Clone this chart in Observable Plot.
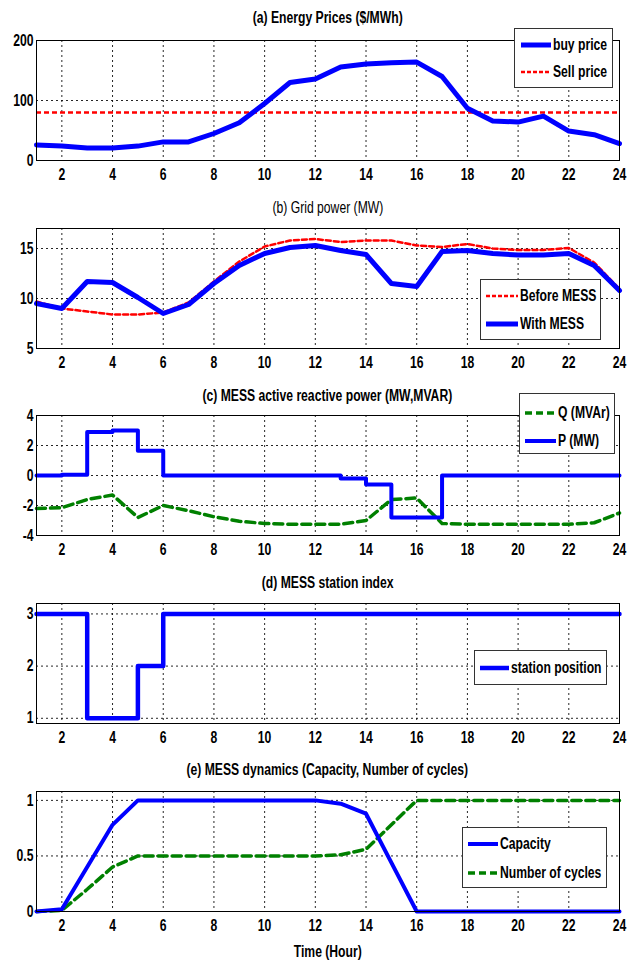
<!DOCTYPE html>
<html><head><meta charset="utf-8">
<script src="https://cdn.jsdelivr.net/npm/d3@7"></script>
<script src="https://cdn.jsdelivr.net/npm/@observablehq/plot@0.6"></script>
<style>
body{margin:0;background:#fff;}
#root{position:relative;width:628px;height:961px;overflow:hidden;font-family:'Liberation Sans',Arial,sans-serif;color:#000;}
.title{position:absolute;left:36px;width:583px;text-align:center;font-size:16px;font-weight:bold;line-height:18px;}
.title span{display:inline-block;transform:scaleX(0.76);transform-origin:50% 50%;white-space:nowrap;}
.panel{position:absolute;left:0;}
.legend{position:absolute;border:1px solid #333;background:#fff;}
.item{position:absolute;font-size:16px;font-weight:bold;white-space:nowrap;line-height:18px;}
.item span{display:inline-block;transform:scaleX(0.76);transform-origin:0 50%;}
.item svg{position:absolute;top:0;left:0;}
</style></head>
<body><div id="root"></div>
<script>
const hours = [1,2,3,4,5,6,7,8,9,10,11,12,13,14,15,16,17,18,19,20,21,22,23,24];
const xTicks = [2,4,6,8,10,12,14,16,18,20,22,24];

const buyPrice = [26,24,21,21,24,31,31,45,63,95,130,136,156,161,163,164,140,87,66,64,74,49,43,28];
const sellPrice = 80;
const priceTicks = [0,100,200];

const beforeMESS = [9.7,9.0,8.7,8.4,8.4,8.6,9.6,11.7,13.7,15.2,15.8,15.95,15.65,15.8,15.8,15.3,15.15,15.45,15.0,14.85,14.85,15.05,13.6,10.95];
const withMESS = [9.5,9.0,11.7,11.6,10.1,8.5,9.4,11.5,13.3,14.5,15.1,15.3,14.8,14.4,11.5,11.2,14.7,14.8,14.5,14.35,14.35,14.5,13.3,10.8];
const gridTicks = [5,10,15];

const pMW = [0,0.05,2.9,3.0,1.65,0,0,0,0,0,0,0,-0.2,-0.6,-2.8,-2.8,0,0,0,0,0,0,0,0];
const qMVAr = [-2.2,-2.15,-1.6,-1.3,-2.8,-2.0,-2.35,-2.75,-3.05,-3.2,-3.25,-3.25,-3.25,-3.0,-1.6,-1.5,-3.2,-3.25,-3.25,-3.25,-3.25,-3.25,-3.15,-2.5];
const powerTicks = [-4,-2,0,2,4];

const station = [3,3,1,1,2,3,3,3,3,3,3,3,3,3,3,3,3,3,3,3,3,3,3,3];
const stationTicks = [1,2,3];

const capacity = [0,0.02,0.4,0.78,1,1,1,1,1,1,1,1,0.97,0.88,0.44,0,0,0,0,0,0,0,0,0];
const cycles = [0,0.01,0.2,0.4,0.5,0.5,0.5,0.5,0.5,0.5,0.5,0.5,0.51,0.56,0.78,1,1,1,1,1,1,1,1,1];
const dynTicks = [0,0.5,1];

const BLUE = "#0000ff", RED = "#ff0000", GREEN = "#008000";
const FONT = "'Liberation Sans',Arial,sans-serif";
const SQ = 0.76;
const root = document.getElementById("root");

const rows = a => hours.map((h, i) => ({h, v: a[i]}));

function squeezeSvgText(svg) {
  svg.querySelectorAll("text").forEach(t => {
    const x = parseFloat(t.getAttribute("x")) || 0;
    const tr = t.getAttribute("transform") || "";
    t.setAttribute("transform", `${tr} translate(${x},0) scale(${SQ},1) translate(${-x},0)`.trim());
  });
}

function panel(frameTop, yDomain, yTicks, marks) {
  const mt = 2, mb = 30, fh = 120;
  const p = Plot.plot({
    width: 628, height: fh + mt + mb,
    marginTop: mt, marginBottom: mb, marginLeft: 36, marginRight: 9,
    x: {domain: [1, 24], ticks: xTicks, tickSize: 0, tickPadding: 8, label: null, tickFormat: d => String(d)},
    y: {domain: yDomain, ticks: yTicks, tickSize: 0, tickPadding: 3, label: null, tickFormat: d => String(d)},
    style: {fontFamily: FONT, fontSize: "16px", fontWeight: "bold", color: "#000", background: "transparent", overflow: "visible"},
    marks: [
      Plot.ruleX(xTicks, {stroke: "#000", strokeWidth: 1, strokeDasharray: "2,3", strokeOpacity: 0.85}),
      Plot.ruleY(yTicks, {stroke: "#000", strokeWidth: 1, strokeDasharray: "2,3", strokeOpacity: 0.85}),
      ...marks,
      Plot.frame({stroke: "#000", strokeWidth: 1})
    ]
  });
  squeezeSvgText(p);
  const d = document.createElement("div");
  d.className = "panel";
  d.style.top = (frameTop - mt) + "px";
  d.appendChild(p);
  root.appendChild(d);
}

function title(text, cy, bold = true) {
  const t = document.createElement("div");
  t.className = "title";
  const s = document.createElement("span");
  s.textContent = text;
  t.appendChild(s);
  t.style.top = (cy - 9) + "px";
  if (!bold) t.style.fontWeight = "normal";
  root.appendChild(t);
}

function legend(box, items) {
  const L = document.createElement("div");
  L.className = "legend";
  Object.assign(L.style, {left: box.x + "px", top: box.y + "px", width: box.w + "px", height: box.h + "px"});
  items.forEach(it => {
    const r = document.createElement("div");
    r.className = "item";
    r.style.left = box.sx + "px";
    r.style.top = (it.cy - 9) + "px";
    r.style.paddingLeft = (box.sw + 2) + "px";
    r.innerHTML = `<svg width="${box.sw}" height="18"><line x1="0" x2="${box.sw}" y1="9" y2="9" stroke="${it.color}" stroke-width="${it.width}" ${it.dash ? `stroke-dasharray="${it.dash}"` : ""}/></svg><span>${it.label}</span>`;
    L.appendChild(r);
  });
  root.appendChild(L);
}

// (a)
title("(a) Energy Prices ($/MWh)", 18);
panel(40, [0, 200], priceTicks, [
  Plot.ruleY([sellPrice], {stroke: RED, strokeWidth: 2.5, strokeDasharray: "5,3"}),
  Plot.line(rows(buyPrice), {x: "h", y: "v", stroke: BLUE, strokeWidth: 5})
]);
legend({x: 514, y: 28, w: 97, h: 58, sx: 6, sw: 30}, [
  {label: "buy price", color: BLUE, width: 5, cy: 16},
  {label: "Sell price", color: RED, width: 2.5, dash: "4,2", cy: 43}
]);

// (b)
title("(b) Grid power (MW)", 208, false);
panel(228, [5, 17], gridTicks, [
  Plot.line(rows(beforeMESS), {x: "h", y: "v", stroke: RED, strokeWidth: 2.5, strokeDasharray: "5,3"}),
  Plot.line(rows(withMESS), {x: "h", y: "v", stroke: BLUE, strokeWidth: 5})
]);
legend({x: 480, y: 279, w: 119, h: 59, sx: 5, sw: 32}, [
  {label: "Before MESS", color: RED, width: 2.5, dash: "4,2", cy: 16},
  {label: "With MESS", color: BLUE, width: 5, cy: 44}
]);

// (c)
title("(c) MESS active reactive power (MW,MVAR)", 396);
panel(415, [-4, 4], powerTicks, [
  Plot.line(rows(qMVAr), {x: "h", y: "v", stroke: GREEN, strokeWidth: 3.5, strokeDasharray: "9,5"}),
  Plot.line(rows(pMW), {x: "h", y: "v", stroke: BLUE, strokeWidth: 4, curve: "step-after"})
]);
legend({x: 519, y: 393, w: 94, h: 59, sx: 5, sw: 31}, [
  {label: "Q (MVAr)", color: GREEN, width: 3.5, dash: "7,4", cy: 19},
  {label: "P (MW)", color: BLUE, width: 4, cy: 47}
]);

// (d)
title("(d) MESS station index", 583);
panel(603, [0.9, 3.2], stationTicks, [
  Plot.line(rows(station), {x: "h", y: "v", stroke: BLUE, strokeWidth: 4.5, curve: "step-after"})
]);
legend({x: 474, y: 650, w: 131, h: 33, sx: 5, sw: 29}, [
  {label: "station position", color: BLUE, width: 4.5, cy: 17}
]);

// (e)
title("(e) MESS dynamics (Capacity, Number of cycles)", 770);
panel(791, [0, 1.08], dynTicks, [
  Plot.line(rows(cycles), {x: "h", y: "v", stroke: GREEN, strokeWidth: 3.5, strokeDasharray: "9,5"}),
  Plot.line(rows(capacity), {x: "h", y: "v", stroke: BLUE, strokeWidth: 4})
]);
legend({x: 462, y: 827, w: 143, h: 59, sx: 5, sw: 30}, [
  {label: "Capacity", color: BLUE, width: 4, cy: 16},
  {label: "Number of cycles", color: GREEN, width: 3.5, dash: "7,4", cy: 45}
]);

title("Time (Hour)", 952);
</script></body></html>
